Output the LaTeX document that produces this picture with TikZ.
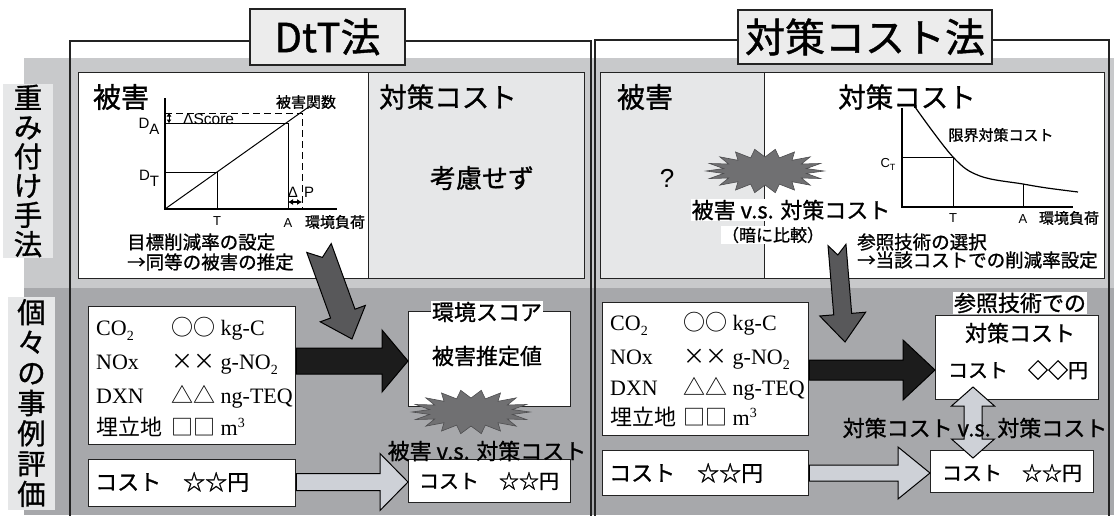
\documentclass[tikz,border=0pt]{standalone}
\usepackage{fontspec}
\usetikzlibrary{calc,arrows.meta}
\newfontfamily\jp[FakeBold=1.0]{Noto Sans CJK JP}
\newfontfamily\jpl{Noto Sans CJK JP}
\newfontfamily\arf{Liberation Sans}
\newfontfamily\tmf{Liberation Serif}
\newcommand\setfs[1]{\fontsize{#1}{#1}\selectfont}
\newcommand\chemsub[1]{\raisebox{-5pt}{\setfs{14}#1}}
\newcommand\chemsup[1]{\raisebox{8pt}{\setfs{14}#1}}
\definecolor{bandL}{RGB}{200,201,203}
\definecolor{bandD}{RGB}{167,168,171}
\definecolor{panel}{RGB}{230,231,232}
\definecolor{titlef}{RGB}{236,236,236}
\definecolor{darkarr}{RGB}{88,88,90}
\definecolor{blackarr}{RGB}{28,28,28}
\definecolor{lightarr}{RGB}{206,209,215}
\definecolor{burstc}{RGB}{112,112,114}
\definecolor{linec}{RGB}{35,35,35}
% block arrow: style, tail, tip, shaft half, head half, head length, notch
\newcommand\blockarr[7]{%
  \coordinate (hb) at ($(#3)!#6!(#2)$);
  \filldraw[#1] ($(#2)!#4!90:(#3)$) -- ($(hb)!#4!90:(#3)$) -- ($(hb)!#5!90:(#3)$) -- (#3)
    -- ($(hb)!#5!-90:(#3)$) -- ($(hb)!#4!-90:(#3)$) -- ($(#2)!#4!-90:(#3)$) -- ($(#2)!#7!(#3)$) -- cycle;}
% double block arrow: style, end A, end B, shaft half, head half, head length
\newcommand\dblarr[6]{%
  \coordinate (ha) at ($(#2)!#6!(#3)$);
  \coordinate (hb) at ($(#3)!#6!(#2)$);
  \filldraw[#1] (#2) -- ($(ha)!#5!90:(#3)$) -- ($(ha)!#4!90:(#3)$) -- ($(hb)!#4!-90:(#2)$)
    -- ($(hb)!#5!-90:(#2)$) -- (#3) -- ($(hb)!#5!90:(#2)$) -- ($(hb)!#4!90:(#2)$)
    -- ($(ha)!#4!-90:(#3)$) -- ($(ha)!#5!-90:(#3)$) -- cycle;}
\newcommand\burstat[1]{%
  \filldraw[burst, shift={(#1)}] plot[samples at={0,...,35}]
    ({(50.5+8.5*cos(\x*180))*cos(\x*10)}, {(18+4*cos(\x*180))*sin(\x*10)}) -- cycle;}
\begin{document}
\begin{tikzpicture}[x=1pt,y=-1pt,
  jpf/.style={font={\jp\setfs{#1}}, inner sep=0pt},
  arl/.style={font={\arf\setfs{#1}}, inner sep=0pt},
  em/.style={font={\tmf\setfs{22}}, inner sep=0pt, anchor=base west},
  frame/.style={draw=linec, line width=2pt},
  titlebox/.style={draw=linec, line width=2pt, fill=titlef, font={\jp\setfs{40}}, inner sep=0pt},
  box/.style={draw=linec, line width=1.3pt, fill=white, inner sep=0pt, anchor=north west},
  gbox/.style={box, fill=panel},
  lbl/.style={fill=panel, inner sep=0pt, align=center},
  gl/.style={line width=1pt, draw=black},
  axis/.style={line width=1.6pt, draw=black},
  burst/.style={fill=burstc, draw=burstc!70!black, line width=0.6pt},
  darkA/.style={fill=darkarr, draw=black, line width=1pt},
  blackA/.style={fill=blackarr, draw=black, line width=1pt},
  lightA/.style={fill=lightarr, draw=black, line width=1pt}]
\useasboundingbox (0,0) rectangle (1114,515);
% bands
\fill[bandL] (24,58) rectangle (1114,288);
\fill[bandD] (24,288) rectangle (1114,515);
% side labels
\node[lbl, minimum width=50pt, minimum height=174pt, font={\jp\fontsize{28.5}{29.3}\selectfont}] (lw) at (28,171) {重\\み\\付\\け\\手\\法};
\node[lbl, minimum width=47pt, minimum height=213pt, font={\jp\fontsize{28.5}{30.3}\selectfont}] (li) at (31.5,403) {個\\々\\の\\事\\例\\評\\価};
% frames
\draw[frame] (70,520) -- (70,41) -- (591,41) -- (591,520);
\draw[frame] (595,520) -- (595,40) -- (1109,40) -- (1109,520);
\node[titlebox, minimum width=155pt, minimum height=56pt] (t1) at (327.5,37) {DtT法};
\node[titlebox, minimum width=254pt, minimum height=54pt] (t2) at (865,37) {対策コスト法};
% upper panels
\node[box, minimum width=290pt, minimum height=206pt] (pLd) at (78,72) {};
\node[gbox, minimum width=216pt, minimum height=206pt] (pLc) at (368,72) {};
\node[gbox, minimum width=164pt, minimum height=206pt] (pRd) at (600,72) {};
\node[box, minimum width=340pt, minimum height=206pt] (pRc) at (764,72) {};
\node[jpf=28] (hLd) at (121,97) {被害};
\node[jpf=27.5] (hLc) at (448,97) {対策コスト};
\node[jpf=28] (hRd) at (645,97) {被害};
\node[jpf=27.5] (hRc) at (907,97) {対策コスト};
\node[jpf=26] (kou) at (482,178) {考慮せず};
% left graph
\draw[axis] (165,98) -- (165,209) -- (337,209);
\draw[gl] (165,209) -- (310,106);
\draw[gl] (165,123) -- (288,123) -- (288,209);
\draw[gl] (165,172) -- (217,172) -- (217,209);
\draw[gl, dashed, dash pattern=on 7pt off 4pt] (165,113) -- (302,113) -- (302,209);
\draw[gl, {Latex[length=4pt,width=5pt]}-{Latex[length=4pt,width=5pt]}] (169,112.5) -- (169,123.5);
\draw[gl, line width=1.5pt, {Latex[length=5pt,width=6pt]}-{Latex[length=5pt,width=6pt]}] (288,202) -- (302,202);
\node[arl=15.5, anchor=west] (dsc) at (183,119) {ΔScore};
\node[arl=15] (da) at (149,126) {D\raisebox{-6pt}{A}};
\node[arl=15] (dt) at (149,178) {D\raisebox{-6pt}{T}};
\node[arl=15] (dp) at (301,192) {Δ\hspace{6pt}P};
\node[arl=13] (lT) at (217,221) {T};
\node[arl=13] (lA) at (288,223) {A};
\node[jpf=15] (kf) at (335,222) {環境負荷};
\node[jpf=15] (hk) at (306,102) {被害関数};
\node[jpf=18.5, anchor=west] (m1) at (127,242) {目標削減率の設定};
\node[jpf=18.5, anchor=west] (m2) at (127,262) {→同等の被害の推定};
% right graph
\draw[axis] (902,108) -- (902,207) -- (1073,207);
\draw[gl, line width=1.2pt] plot[smooth, tension=0.6] coordinates {(915,107) (953,157) (980,176) (1023,184) (1047,188) (1078,192)};
\draw[gl] (902,157) -- (953,157) -- (953,207);
\draw[gl] (1023,184) -- (1023,207);
\node[arl=13] (ct) at (888,164) {C\raisebox{-3pt}{\setfs{9}T}};
\node[arl=13] (rT) at (953,218) {T};
\node[arl=13] (rA) at (1023,219) {A};
\node[jpf=15] (kf2) at (1069,218) {環境負荷};
\node[jpf=15] (gk) at (1001,135) {限界対策コスト};
\node[jpf=18.5, anchor=west] (s1) at (857,242) {参照技術の選択};
\node[jpf=18.5, anchor=west] (s2) at (857,260) {→当該コストでの削減率設定};
% right upper comparison
\node[arl=26] (q) at (667,178) {?};
\coordinate (b2) at (765,171);
\burstat{b2}
\node[jpf=22, fill=white, inner sep=1pt] (vs1) at (791,210) {被害 v.s. 対策コスト};
\node[jpf=17, fill=white, inner sep=1pt] (an) at (773,235) {（暗に比較）};
% lower left
\node[box, minimum width=207pt, minimum height=138pt] (E1) at (88,306) {};
\node[box, minimum width=207pt, minimum height=47pt] (C1) at (88,459) {};
\node[box, minimum width=162pt, minimum height=95pt] (S1) at (408,311) {};
\node[box, minimum width=162pt, minimum height=43pt] (R1) at (408,459) {};
\node[em] at (96,335) {CO\chemsub{2}};
\node[em] at (171,335) {{\jpl ○○} kg-C};
\node[em] at (96,369) {NOx};
\node[em] at (171,369) {{\jpl ××} g-NO\chemsub{2}};
\node[em] at (96,403) {DXN};
\node[em] at (171,403) {{\jpl △△} ng-TEQ};
\node[em] at (96,435) {{\jpl 埋立地}};
\node[em] at (171,435) {{\jpl □□} m\chemsup{3}};
\node[jpf=22, anchor=west] (c1t) at (95,482) {コスト　☆☆円};
\node[jpf=20] (r1t) at (489,481) {コスト　☆☆円};
\node[jpf=22, fill=white, inner sep=1pt] (s1h) at (487,312) {環境スコア};
\node[jpf=22] (s1v) at (487,356) {被害推定値};
\coordinate (b1) at (471,412);
\burstat{b1}
\node[jpf=22] (vs2) at (487,451) {被害 v.s. 対策コスト};
\coordinate (a1s) at (E1.east |- 0,361);
\coordinate (a1e) at (S1.west |- 0,361);
\blockarr{blackA}{a1s}{a1e}{13pt}{31pt}{26pt}{0pt}
\coordinate (a2s) at (C1.east |- 0,482);
\coordinate (a2e) at (R1.west |- 0,482);
\blockarr{lightA}{a2s}{a2e}{8.5pt}{28.5pt}{28pt}{0pt}
% lower right
\node[box, minimum width=206pt, minimum height=133pt] (E2) at (602,302) {};
\node[box, minimum width=206pt, minimum height=45pt] (C2) at (602,450) {};
\node[box, minimum width=163pt, minimum height=84pt] (S2) at (935,315) {};
\node[box, minimum width=163pt, minimum height=42pt] (R2) at (930,450) {};
\node[em] at (610,330) {CO\chemsub{2}};
\node[em] at (683,330) {{\jpl ○○} kg-C};
\node[em] at (610,364) {NOx};
\node[em] at (683,364) {{\jpl ××} g-NO\chemsub{2}};
\node[em] at (610,395) {DXN};
\node[em] at (683,395) {{\jpl △△} ng-TEQ};
\node[em] at (610,425) {{\jpl 埋立地}};
\node[em] at (683,425) {{\jpl □□} m\chemsup{3}};
\node[jpf=22, anchor=west] (c2t) at (609,473) {コスト　☆☆円};
\node[jpf=20] (r2t) at (1012,473) {コスト　☆☆円};
\node[jpf=22, fill=white, inner sep=1pt] (s2h) at (1020,303) {参照技術での};
\node[jpf=22] (s2a) at (1020,333) {対策コスト};
\node[jpf=20] (s2c) at (1018,370) {コスト　◇◇円};
\coordinate (a3s) at (E2.east |- 0,370);
\coordinate (a3e) at (S2.west |- 0,370);
\blockarr{blackA}{a3s}{a3e}{10pt}{30pt}{32pt}{0pt}
\coordinate (a4s) at (C2.east |- 0,473);
\coordinate (a4e) at (R2.west |- 0,473);
\blockarr{lightA}{a4s}{a4e}{8pt}{26pt}{32pt}{0pt}
\coordinate (v1) at (973,387);
\coordinate (v2) at (973,458);
\dblarr{lightA}{v1}{v2}{9pt}{21.5pt}{19pt}
\node[jpf=22] (vs3) at (975,428) {対策コスト v.s. 対策コスト};
% tilted dark arrows
\coordinate (d1s) at (319,248);
\coordinate (d1e) at (352,339);
\blockarr{darkA}{d1s}{d1e}{13pt}{24pt}{27pt}{10pt}
\coordinate (d2s) at (837,245);
\coordinate (d2e) at (845,342);
\blockarr{darkA}{d2s}{d2e}{9pt}{23pt}{28pt}{10pt}
\end{tikzpicture}
\end{document}
